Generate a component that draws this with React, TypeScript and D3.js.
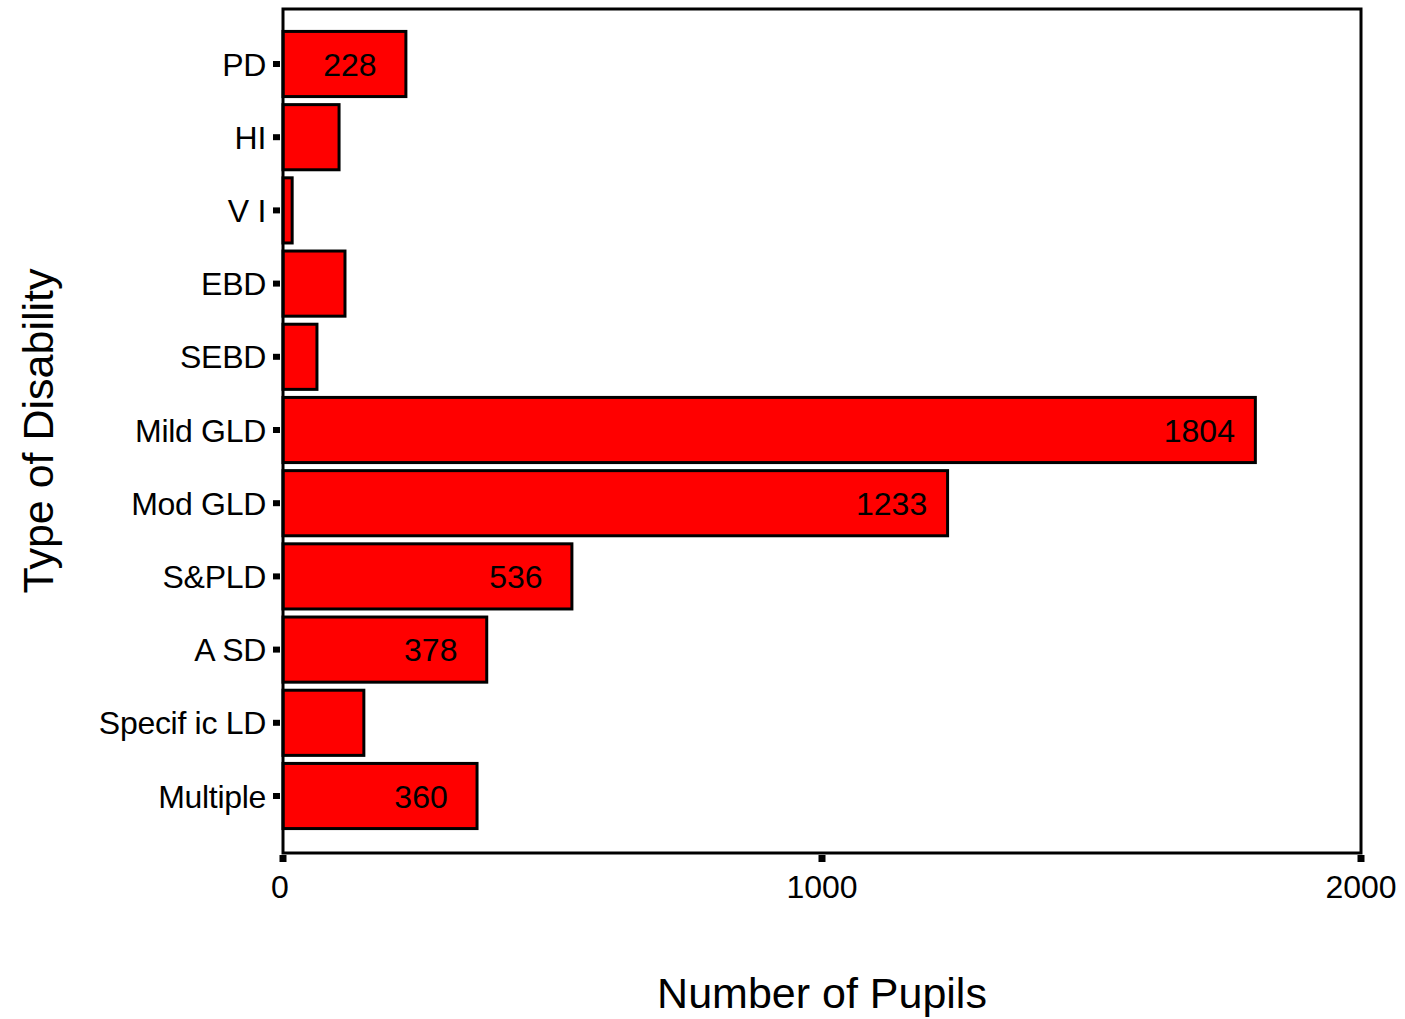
import * as d3 from "d3";

const categories = [
  "PD",
  "HI",
  "V I",
  "EBD",
  "SEBD",
  "Mild GLD",
  "Mod GLD",
  "S&PLD",
  "A SD",
  "Specif ic LD",
  "Multiple",
];
const pupils = [228, 104, 17, 115, 63, 1804, 1233, 536, 378, 150, 360];
const shownLabels = [true, false, false, false, false, true, true, true, true, false, true];
const xTicks = [0, 1000, 2000];

const W = 1405;
const H = 1019;
const margin = { left: 283, right: 1361, top: 9, bottom: 853 };

export default function App() {
  const x = d3.scaleLinear().domain([0, 2000]).range([margin.left, margin.right]);
  const y = d3
    .scaleBand<string>()
    .domain(categories)
    .range([margin.top - 1, margin.bottom - 1])
    .paddingInner(0.11)
    .paddingOuter(0.32);

  const font = "'Liberation Sans', Arial, sans-serif";

  return (
    <svg
      width={W}
      height={H}
      style={{ position: "absolute", left: 0, top: 0, background: "#fff" }}
      fontFamily={font}
    >
      {/* bars */}
      {categories.map((c, i) => (
        <rect
          key={c}
          x={x(0)}
          y={y(c)!}
          width={x(pupils[i]) - x(0)}
          height={y.bandwidth()}
          fill="#ff0000"
          stroke="#000"
          strokeWidth={3}
        />
      ))}
      {/* value labels */}
      {categories.map((c, i) =>
        shownLabels[i] ? (
          <text
            key={"v" + c}
            x={x(pupils[i]) - 56}
            y={y(c)! + y.bandwidth() / 2}
            dy="0.36em"
            textAnchor="middle"
            fontSize={32}
            fill="#000"
          >
            {pupils[i]}
          </text>
        ) : null
      )}
      {/* frame */}
      <rect
        x={margin.left}
        y={margin.top}
        width={margin.right - margin.left}
        height={margin.bottom - margin.top}
        fill="none"
        stroke="#000"
        strokeWidth={3}
      />
      {/* y ticks and labels */}
      {categories.map((c) => {
        const cy = y(c)! + y.bandwidth() / 2;
        return (
          <g key={"t" + c}>
            <rect x={margin.left - 10} y={cy - 3} width={7} height={6} fill="#000" />
            <text
              x={margin.left - 17}
              y={cy}
              dy="0.36em"
              textAnchor="end"
              fontSize={32}
              letterSpacing={-0.3}
              fill="#000"
            >
              {c}
            </text>
          </g>
        );
      })}
      {/* x ticks */}
      {xTicks.map((t) => (
        <g key={"x" + t}>
          <rect x={x(t) - 3.5} y={margin.bottom + 2} width={7} height={7} fill="#000" />
          <text
            x={t === 0 ? x(t) - 3 : x(t)}
            y={margin.bottom + 33}
            dy="0.36em"
            textAnchor="middle"
            fontSize={32}
            fill="#000"
          >
            {t}
          </text>
        </g>
      ))}
      {/* axis titles */}
      <text
        x={(margin.left + margin.right) / 2}
        y={993}
        dy="0.36em"
        textAnchor="middle"
        fontSize={43}
        fill="#000"
      >
        Number of Pupils
      </text>
      <text
        transform={`translate(38, ${(margin.top + margin.bottom) / 2}) rotate(-90)`}
        dy="0.36em"
        textAnchor="middle"
        fontSize={43}
        fill="#000"
      >
        Type of Disability
      </text>
    </svg>
  );
}
